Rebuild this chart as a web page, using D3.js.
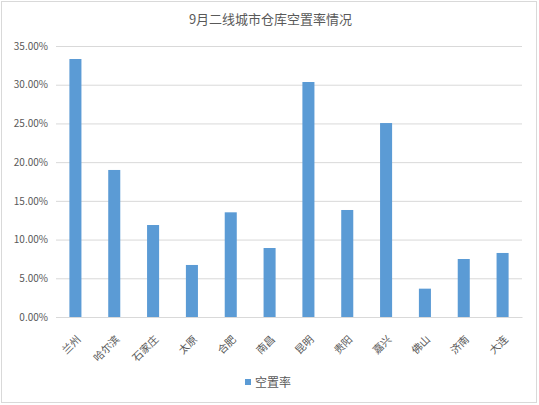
<!DOCTYPE html>
<html>
<head>
<meta charset="utf-8">
<script src="https://cdn.jsdelivr.net/npm/d3@7"></script>
<style>
  body { margin: 0; background: #fff; }
  text { font-family: "Microsoft YaHei", "Noto Sans CJK SC", sans-serif; fill: #595959; }
</style>
</head>
<body>
<script>
// data
const cities = ['兰州','哈尔滨','石家庄','太原','合肥','南昌','昆明','贵阳','嘉兴','佛山','济南','大连'];
const vacancy = [0.3332, 0.1899, 0.1188, 0.0672, 0.1352, 0.0891, 0.3035, 0.1382, 0.2505, 0.0366, 0.0749, 0.0827];
const yTicks = [0, 0.05, 0.10, 0.15, 0.20, 0.25, 0.30, 0.35];
const seriesName = '空置率';
const title = '9月二线城市仓库空置率情况';

const W = 539, H = 405;
const m = {left: 56, right: 17, top: 46, bottom: 88};

const svg = d3.select('body').append('svg')
  .attr('width', W).attr('height', H);

// chart frame
svg.append('rect')
  .attr('x', 1.5).attr('y', 1.5).attr('width', W - 4).attr('height', H - 4)
  .attr('fill', '#fff').attr('stroke', '#d9d9d9');

svg.append('text')
  .attr('x', W / 2 + 1).attr('y', 24)
  .attr('text-anchor', 'middle')
  .style('font-size', '13px')
  .text(title);

const x = d3.scaleBand().domain(cities)
  .range([m.left, W - m.right]).paddingInner(0.69).paddingOuter(0.345);
const y = d3.scaleLinear().domain([0, 0.35]).range([H - m.bottom, m.top]);

// gridlines
svg.append('g')
  .attr('transform', `translate(${m.left},0)`)
  .call(d3.axisLeft(y).tickValues(yTicks).tickSize(-(W - m.left - m.right)).tickFormat(''))
  .call(g => g.select('.domain').remove())
  .call(g => g.selectAll('line').attr('stroke', '#d9d9d9'));

// y labels
svg.append('g')
  .attr('transform', `translate(${m.left},0)`)
  .call(d3.axisLeft(y).tickValues(yTicks).tickSize(0).tickPadding(8)
    .tickFormat(d => (d * 100).toFixed(2) + '%'))
  .call(g => g.select('.domain').remove())
  .call(g => g.selectAll('text').style('font-size', '10px').attr('fill', '#595959'));

// bars
svg.append('g').selectAll('rect')
  .data(cities)
  .join('rect')
  .attr('x', d => x(d))
  .attr('width', x.bandwidth())
  .attr('y', (d, i) => y(vacancy[i]))
  .attr('height', (d, i) => y(0) - y(vacancy[i]))
  .attr('fill', '#5b9bd5');

// x labels
svg.append('g')
  .attr('transform', `translate(0,${H - m.bottom})`)
  .call(d3.axisBottom(x).tickSize(0).tickPadding(0))
  .call(g => g.select('.domain').attr('stroke', '#d9d9d9'))
  .call(g => g.selectAll('text')
    .style('font-size', '10.5px')
    .style('fill', '#595959')
    .attr('text-anchor', 'end')
    .attr('dy', 0)
    .attr('transform', 'translate(6,23) rotate(-45)'));

// legend
const lg = svg.append('g').attr('transform', `translate(245,382)`);
lg.append('rect').attr('x', 0).attr('y', -3).attr('width', 6).attr('height', 6).attr('fill', '#5b9bd5');
lg.append('text').attr('x', 10).attr('y', 4.5).style('font-size', '12px').text(seriesName);
</script>
</body>
</html>
